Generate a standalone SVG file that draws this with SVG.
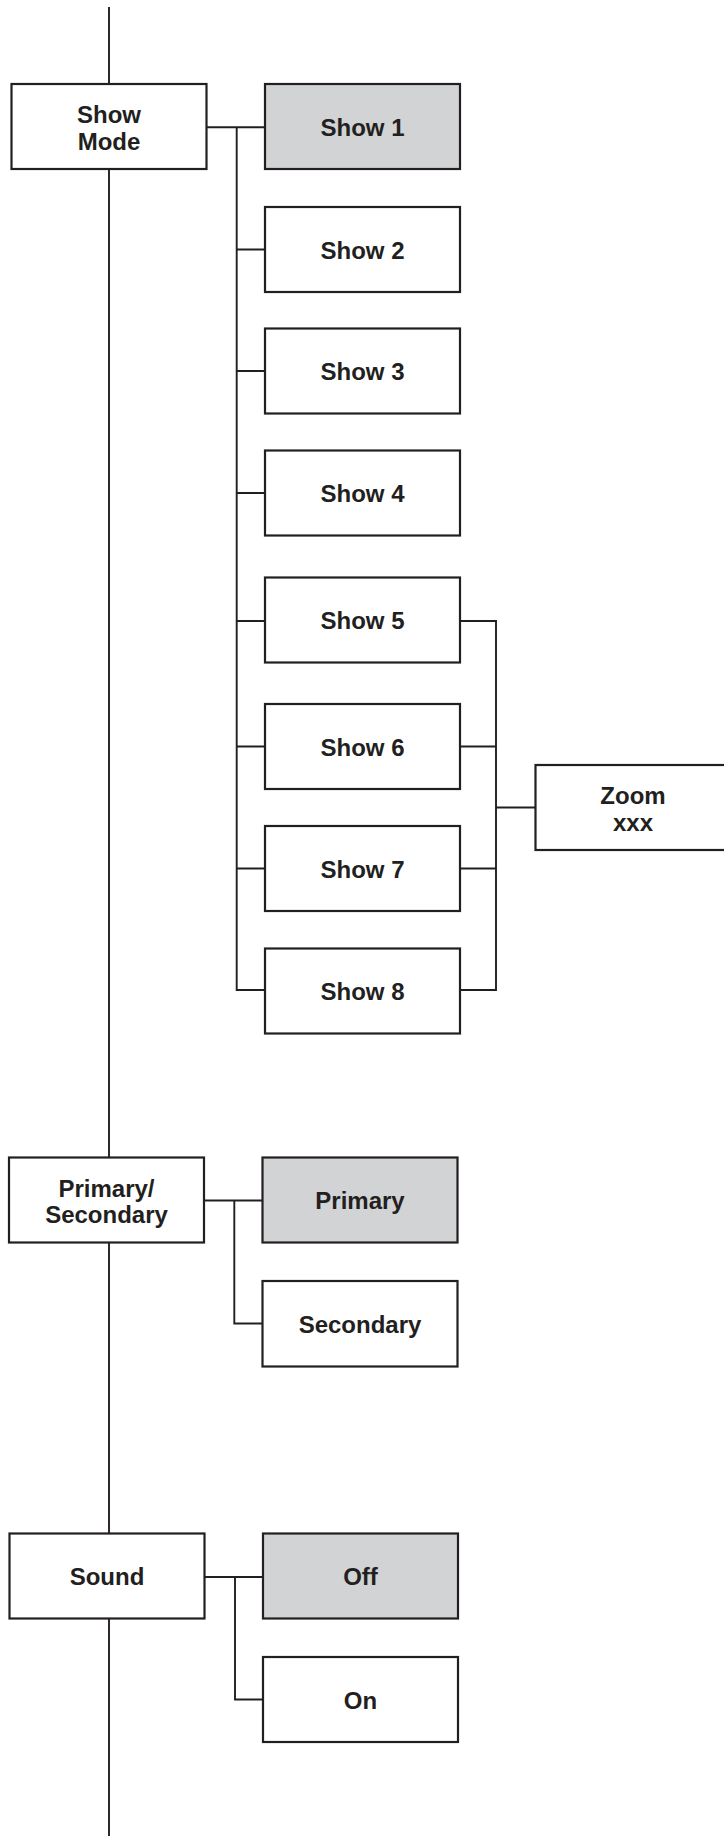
<svg xmlns="http://www.w3.org/2000/svg" width="724" height="1836" viewBox="0 0 724 1836">
<style>
.box{fill:#ffffff;stroke:#231f20;stroke-width:2.2}
.sel{fill:#d1d3d4;stroke:#231f20;stroke-width:2.2}
.t{font-family:"Liberation Sans",Arial,sans-serif;font-weight:bold;font-size:24px;fill:#231f20;text-anchor:middle}
.c{fill:none;stroke:#231f20;stroke-width:1.9}
</style>
<rect width="724" height="1836" fill="#ffffff"/>
<g id="connectors">
<path class="c" d="M109 7V1836"/>
<path class="c" d="M206.5 127.3H265M236.7 127.3V990H265M236.7 249.5H265M236.7 371H265M236.7 493H265M236.7 621H265M236.7 746.5H265M236.7 868.5H265"/>
<path class="c" d="M460 621H496V990H460M460 746.5H496M460 868.5H496M496 807.5H535.5"/>
<path class="c" d="M204 1200.5H262.5M234.3 1200.5V1323.5H262.5"/>
<path class="c" d="M204.5 1577H263M235 1577V1699.5H263"/>
</g>
<g id="showmode"><rect class="box" x="11.5" y="84" width="195" height="85"/><text class="t" x="109" y="123.3">Show</text><text class="t" x="109" y="149.5">Mode</text></g>
<g id="show1"><rect class="sel" x="265" y="84" width="195" height="85"/><text class="t" x="362.5" y="135.5">Show 1</text></g>
<g id="show2"><rect class="box" x="265" y="207" width="195" height="85"/><text class="t" x="362.5" y="258.5">Show 2</text></g>
<g id="show3"><rect class="box" x="265" y="328.5" width="195" height="85"/><text class="t" x="362.5" y="380">Show 3</text></g>
<g id="show4"><rect class="box" x="265" y="450.5" width="195" height="85"/><text class="t" x="362.5" y="502">Show 4</text></g>
<g id="show5"><rect class="box" x="265" y="577.5" width="195" height="85"/><text class="t" x="362.5" y="629">Show 5</text></g>
<g id="show6"><rect class="box" x="265" y="704" width="195" height="85"/><text class="t" x="362.5" y="755.5">Show 6</text></g>
<g id="show7"><rect class="box" x="265" y="826" width="195" height="85"/><text class="t" x="362.5" y="877.5">Show 7</text></g>
<g id="show8"><rect class="box" x="265" y="948.5" width="195" height="85"/><text class="t" x="362.5" y="1000">Show 8</text></g>
<g id="zoom"><rect class="box" x="535.5" y="765" width="196" height="85"/><text class="t" x="633" y="804">Zoom</text><text class="t" x="633" y="831">xxx</text></g>
<g id="primsec"><rect class="box" x="9" y="1157.5" width="195" height="85"/><text class="t" x="106.5" y="1196.5">Primary/</text><text class="t" x="106.5" y="1223">Secondary</text></g>
<g id="primary"><rect class="sel" x="262.5" y="1157.5" width="195" height="85"/><text class="t" x="360" y="1209">Primary</text></g>
<g id="secondary"><rect class="box" x="262.5" y="1281" width="195" height="85.5"/><text class="t" x="360" y="1332.5">Secondary</text></g>
<g id="sound"><rect class="box" x="9.5" y="1533.5" width="195" height="85"/><text class="t" x="107" y="1585">Sound</text></g>
<g id="off"><rect class="sel" x="263" y="1533.5" width="195" height="85"/><text class="t" x="360.5" y="1585">Off</text></g>
<g id="on"><rect class="box" x="263" y="1657" width="195" height="85"/><text class="t" x="360.5" y="1708.5">On</text></g>
</svg>
